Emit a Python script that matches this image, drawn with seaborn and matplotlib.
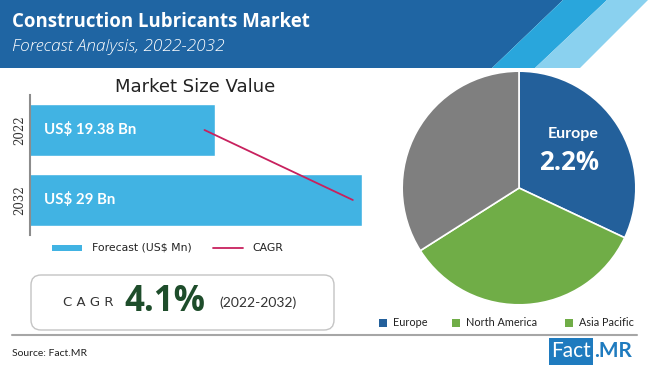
import matplotlib
matplotlib.use("Agg")
import matplotlib.pyplot as plt
import seaborn as sns
import pandas as pd
from matplotlib.patches import Polygon, FancyBboxPatch, Rectangle
from matplotlib.lines import Line2D

# ---- data ----
years = ["2022", "2032"]
market_values = [19.38, 29.0]           # US$ Bn
bar_labels = ["US$ 19.38 Bn", "US$ 29 Bn"]
cagr_line_x = [18.7, 28.4]              # CAGR trend line end points (bar axis units)
regions = ["Europe", "North America", "Asia Pacific"]
pie_shares = [32, 34, 34]
pie_colors = ["#23609b", "#70ad47", "#7f7f7f"]
legend_colors = ["#23609b", "#70ad47", "#70ad47"]
cagr_text = "4.1%"
cagr_period = "(2022-2032)"
europe_share = "2.2%"

W, H = 650, 370
sns.set_theme(style="white")
plt.rcParams["font.family"] = ["DejaVu Sans"]

fig = plt.figure(figsize=(W / 100, H / 100), dpi=100)
fig.patch.set_facecolor("white")

def fb(x, y, w, h):
    return [x / W, 1 - (y + h) / H, w / W, h / H]

# background overlay
bg = fig.add_axes([0, 0, 1, 1], zorder=0)
bg.set_xlim(0, W); bg.set_ylim(H, 0); bg.axis("off")
bg.add_patch(Polygon([(0, 0), (563, 0), (492, 68), (0, 68)], closed=True, color="#1f65a3", lw=0))
bg.add_patch(Polygon([(563, 0), (607, 0), (535, 68), (492, 68)], closed=True, color="#29a6dc", lw=0))
bg.add_patch(Polygon([(607, 0), (648, 0), (580, 68), (535, 68)], closed=True, color="#8ad1ef", lw=0))
bg.text(12, 22, "Construction Lubricants Market", color="white", fontsize=13.4,
        fontweight="bold", family="Open Sans", va="center", ha="left")
bg.text(12, 47, "Forecast Analysis, 2022-2032", color="white", fontsize=12.4,
        fontstyle="italic", fontweight="light", family="Open Sans", va="center", ha="left")

# bar chart
axb = fig.add_axes(fb(30, 95, 332, 140), zorder=2)
df = pd.DataFrame({"year": years, "value": market_values})
sns.barplot(data=df, x="value", y="year", orient="h", color="#41b3e3",
            saturation=1, width=0.74, ax=axb)
axb.plot(cagr_line_x, [0, 1], color="#c8215e", lw=1.3)
axb.set_xlim(7.29, 29)
axb.set_ylim(1.5, -0.5)
axb.set_xlabel(""); axb.set_ylabel("")
axb.set_xticks([])
axb.set_yticks([0, 1])
axb.set_yticklabels(years, rotation=90, va="center", fontsize=8.5, color="#333333",
                    family="DejaVu Serif")
axb.tick_params(axis="y", length=0, pad=3)
for s in ["top", "right", "bottom"]:
    axb.spines[s].set_visible(False)
axb.spines["left"].set_color("#8c8c8c")
axb.spines["left"].set_linewidth(1.5)
axb.patch.set_alpha(0)
for i, lab in enumerate(bar_labels):
    axb.annotate(lab, xy=(0, i), xycoords=axb.get_yaxis_transform(), xytext=(10, 0),
                 textcoords="offset points", color="white", fontsize=10.8,
                 fontweight="bold", family="Lato", va="center", ha="left")

fg = fig.add_axes([0, 0, 1, 1], zorder=5)
fg.set_xlim(0, W); fg.set_ylim(H, 0); fg.axis("off")
fg.patch.set_alpha(0)
fg.text(195, 87, "Market Size Value", fontsize=13, color="#222222", family="DejaVu Sans",
        ha="center", va="center")

# bar legend
fg.add_patch(Rectangle((52, 245), 30, 6, color="#41b3e3", lw=0))
fg.text(92, 248, "Forecast (US$ Mn)", fontsize=7.8, color="#222222", va="center", ha="left")
fg.add_line(Line2D([213, 243], [248, 248], color="#c8215e", lw=1.3))
fg.text(252, 248, "CAGR", fontsize=7.8, color="#222222", va="center", ha="left")

# CAGR box
fg.add_patch(FancyBboxPatch((31, 275), 303, 55, boxstyle="round,pad=0,rounding_size=10",
                            fc="white", ec="#c4c4c4", lw=1))
fg.text(88, 303, "C A G R", fontsize=9.5, color="#333333", ha="center", va="center")
fg.text(165, 302, cagr_text, fontsize=25, fontweight="bold", color="#1e4d2b",
        ha="center", va="center", family="Open Sans")
fg.text(258, 303, cagr_period, fontsize=10, color="#333333", ha="center", va="center",
        family="Lato")

# separator & source
fg.add_line(Line2D([12, 637], [335, 335], color="#a6a6a6", lw=1.5))
fg.text(12, 354, "Source: Fact.MR", fontsize=7.5, color="#222222", ha="left", va="center",
        family="Lato")

# logo
fg.add_patch(Rectangle((549, 338), 44, 27, color="#1f7bbf", lw=0))
fg.text(571, 351, "Fact", fontsize=15, color="white", ha="center", va="center", family="Lato")
fg.text(594, 351, ".MR", fontsize=15, color="#1f7bbf", fontweight="bold", ha="left",
        va="center", family="Lato")

# pie
axp = fig.add_axes(fb(401, 70, 236, 236), zorder=3)
axp.pie(pie_shares, colors=pie_colors, startangle=90, counterclock=False,
        wedgeprops=dict(edgecolor="white", linewidth=1.2))
axp.set_xlim(-1.01, 1.01); axp.set_ylim(-1.01, 1.01)
axp.set_aspect("equal")
fg.text(573, 134, regions[0], fontsize=11.5, fontweight="bold", color="white",
        ha="center", va="center", family="Lato")
fg.text(569, 163, europe_share, fontsize=18.5, fontweight="bold", color="white",
        ha="center", va="center", family="Open Sans")

# pie legend
leg_x = [379, 452, 565]
for x, name, c in zip(leg_x, regions, legend_colors):
    fg.add_patch(Rectangle((x, 319), 8, 8, color=c, lw=0))
    fg.text(x + 14, 323, name, fontsize=7.8, color="#222222", ha="left", va="center",
            family="Lato")

fig.savefig("out.png", dpi=100)
